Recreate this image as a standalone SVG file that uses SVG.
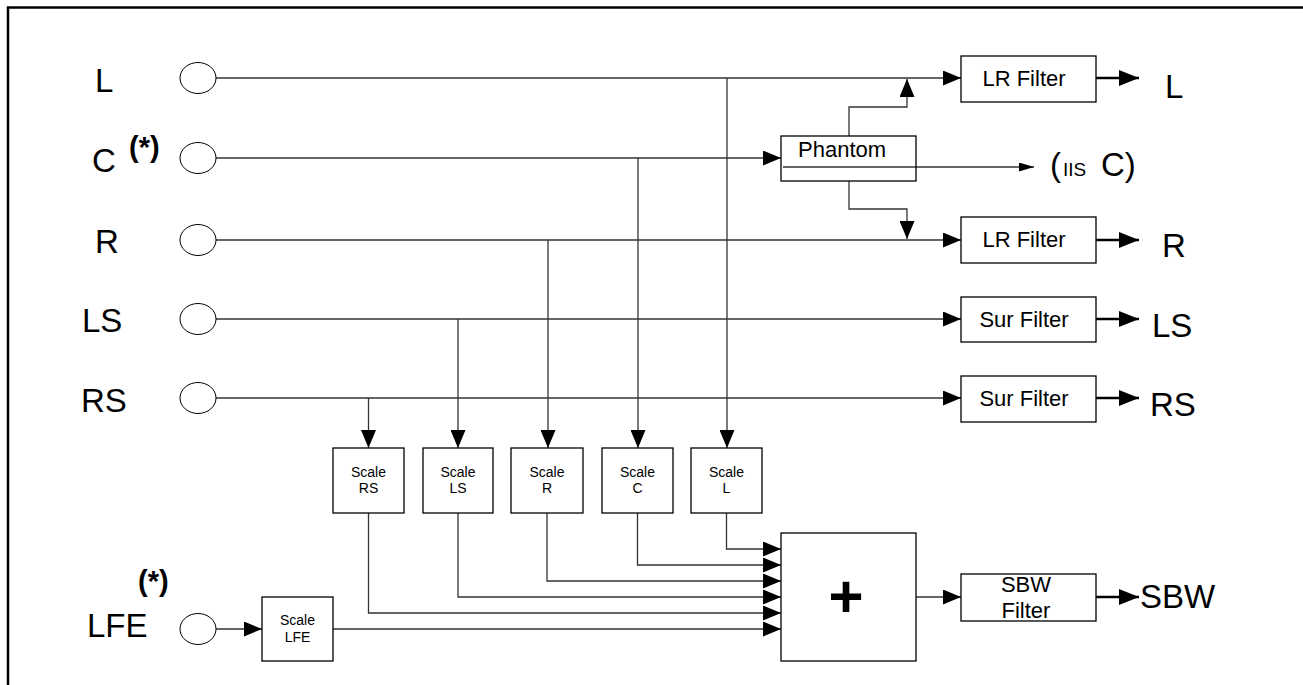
<svg xmlns="http://www.w3.org/2000/svg" width="1303" height="685" viewBox="0 0 1303 685">
<style>
text{font-family:"Liberation Sans",Arial,sans-serif;fill:#000}
.lbl{font-size:33px}
.star{font-size:29px;font-weight:bold}
.box{fill:#fff;stroke:#000;stroke-width:1.3}
.in{fill:#fff;stroke:#000;stroke-width:1}
.bt{font-size:22px;text-anchor:middle}
.sc{font-size:14px;text-anchor:middle}
.ln{fill:none;stroke:#333;stroke-width:1.3}
.out{fill:none;stroke:#000;stroke-width:2.6}
</style>
<defs>
<marker id="a" viewBox="0 0 18 15" refX="18" refY="7.5" markerWidth="18" markerHeight="15" markerUnits="userSpaceOnUse" orient="auto"><path d="M0,0L18,7.5L0,15z" fill="#000"/></marker>
<marker id="b" viewBox="0 0 20 16" refX="20" refY="8" markerWidth="20" markerHeight="16" markerUnits="userSpaceOnUse" orient="auto"><path d="M0,0L20,8L0,16z" fill="#000"/></marker>
<marker id="s" viewBox="0 0 15 9" refX="15" refY="4.5" markerWidth="15" markerHeight="9" markerUnits="userSpaceOnUse" orient="auto"><path d="M0,0L15,4.5L0,9z" fill="#000"/></marker>
</defs>
<rect width="1303" height="685" fill="#fff"/>
<path d="M8,685V7.5H1303" fill="none" stroke="#000" stroke-width="2.5"/>

<g id="connectors">
<path class="ln" d="M216,78H961" marker-end="url(#a)"/>
<path class="ln" d="M727,78V448" marker-end="url(#a)"/>
<path class="ln" d="M216,158H781" marker-end="url(#a)"/>
<path class="ln" d="M638,158V448" marker-end="url(#a)"/>
<path class="ln" d="M216,240H961" marker-end="url(#a)"/>
<path class="ln" d="M548,240V448" marker-end="url(#a)"/>
<path class="ln" d="M216,319H961" marker-end="url(#a)"/>
<path class="ln" d="M458,319V448" marker-end="url(#a)"/>
<path class="ln" d="M216,398H961" marker-end="url(#a)"/>
<path class="ln" d="M368.5,398V448" marker-end="url(#a)"/>
<path class="ln" d="M849,136V107H907V79" marker-end="url(#a)"/>
<path class="ln" d="M849,181V209H907V239" marker-end="url(#a)"/>
<path class="ln" d="M783,167H1034" marker-end="url(#s)"/>
<path class="out" d="M1096,78H1139" marker-end="url(#b)"/>
<path class="out" d="M1096,240H1139" marker-end="url(#b)"/>
<path class="out" d="M1096,319H1139" marker-end="url(#b)"/>
<path class="out" d="M1096,398H1139" marker-end="url(#b)"/>
<path class="out" d="M1096,597H1139" marker-end="url(#b)"/>
<path class="ln" d="M726.5,513V549H781" marker-end="url(#a)"/>
<path class="ln" d="M637.5,513V565H781" marker-end="url(#a)"/>
<path class="ln" d="M547,513V581H781" marker-end="url(#a)"/>
<path class="ln" d="M458,513V597H781" marker-end="url(#a)"/>
<path class="ln" d="M368.5,513V613H781" marker-end="url(#a)"/>
<path class="ln" d="M333,629H781" marker-end="url(#a)"/>
<path class="ln" d="M216,629H262" marker-end="url(#a)"/>
<path class="ln" d="M916,597H961" marker-end="url(#a)"/>
</g>

<g id="in-L"><ellipse class="in" cx="198" cy="78" rx="18" ry="15.5"/><text class="lbl" x="95" y="92">L</text></g>
<g id="in-C"><ellipse class="in" cx="198" cy="158" rx="18" ry="15.5"/><text class="lbl" x="92" y="172">C</text><text class="star" x="129" y="157">(*)</text></g>
<g id="in-R"><ellipse class="in" cx="198" cy="240" rx="18" ry="15.5"/><text class="lbl" x="95" y="253">R</text></g>
<g id="in-LS"><ellipse class="in" cx="198" cy="319" rx="18" ry="15.5"/><text class="lbl" x="82" y="332">LS</text></g>
<g id="in-RS"><ellipse class="in" cx="198" cy="398" rx="18" ry="15.5"/><text class="lbl" x="81" y="412">RS</text></g>
<g id="in-LFE"><ellipse class="in" cx="198" cy="629" rx="18" ry="15.5"/><text class="lbl" x="87" y="637">LFE</text><text class="star" x="138" y="591">(*)</text></g>

<g id="phantom"><rect class="box" x="781" y="136" width="135" height="45" style="fill:none"/><text class="bt" x="798" y="157" style="text-anchor:start">Phantom</text></g>
<g id="lr-filter-l"><rect class="box" x="961" y="56" width="135" height="46"/><text class="bt" x="1024" y="86">LR Filter</text></g>
<g id="lr-filter-r"><rect class="box" x="961" y="217" width="135" height="46"/><text class="bt" x="1024" y="247">LR Filter</text></g>
<g id="sur-filter-ls"><rect class="box" x="961" y="297" width="135" height="45"/><text class="bt" x="1024" y="327">Sur Filter</text></g>
<g id="sur-filter-rs"><rect class="box" x="961" y="376" width="135" height="46"/><text class="bt" x="1024" y="406">Sur Filter</text></g>
<g id="sbw-filter"><rect class="box" x="961" y="574" width="135" height="47"/><text class="bt" x="1026" y="592">SBW</text><text class="bt" x="1026" y="618">Filter</text></g>

<g id="scale-rs"><rect class="box" x="333" y="448" width="71" height="65"/><text class="sc" x="368.5" y="477">Scale</text><text class="sc" x="368.5" y="493">RS</text></g>
<g id="scale-ls"><rect class="box" x="423" y="448" width="70" height="65"/><text class="sc" x="458" y="477">Scale</text><text class="sc" x="458" y="493">LS</text></g>
<g id="scale-r"><rect class="box" x="511" y="448" width="72" height="65"/><text class="sc" x="547" y="477">Scale</text><text class="sc" x="547" y="493">R</text></g>
<g id="scale-c"><rect class="box" x="602" y="448" width="71" height="65"/><text class="sc" x="637.5" y="477">Scale</text><text class="sc" x="637.5" y="493">C</text></g>
<g id="scale-l"><rect class="box" x="691" y="448" width="71" height="65"/><text class="sc" x="726.5" y="477">Scale</text><text class="sc" x="726.5" y="493">L</text></g>
<g id="scale-lfe"><rect class="box" x="262" y="597" width="71" height="64"/><text class="sc" x="297.5" y="625">Scale</text><text class="sc" x="297.5" y="642">LFE</text></g>

<g id="sum"><rect class="box" x="781" y="533" width="135" height="128"/><text x="846" y="617" style="font-size:60px;font-weight:bold;text-anchor:middle">+</text></g>

<g id="out-L"><text class="lbl" x="1165" y="98">L</text></g>
<g id="out-C"><text x="1050" y="176"><tspan style="font-size:33px">(</tspan><tspan x="1063" style="font-size:19px">IIS</tspan><tspan x="1101" style="font-size:33px">C)</tspan></text></g>
<g id="out-R"><text class="lbl" x="1162" y="257">R</text></g>
<g id="out-LS"><text class="lbl" x="1152" y="337">LS</text></g>
<g id="out-RS"><text class="lbl" x="1150" y="416">RS</text></g>
<g id="out-SBW"><text class="lbl" x="1140" y="608">SBW</text></g>
</svg>
